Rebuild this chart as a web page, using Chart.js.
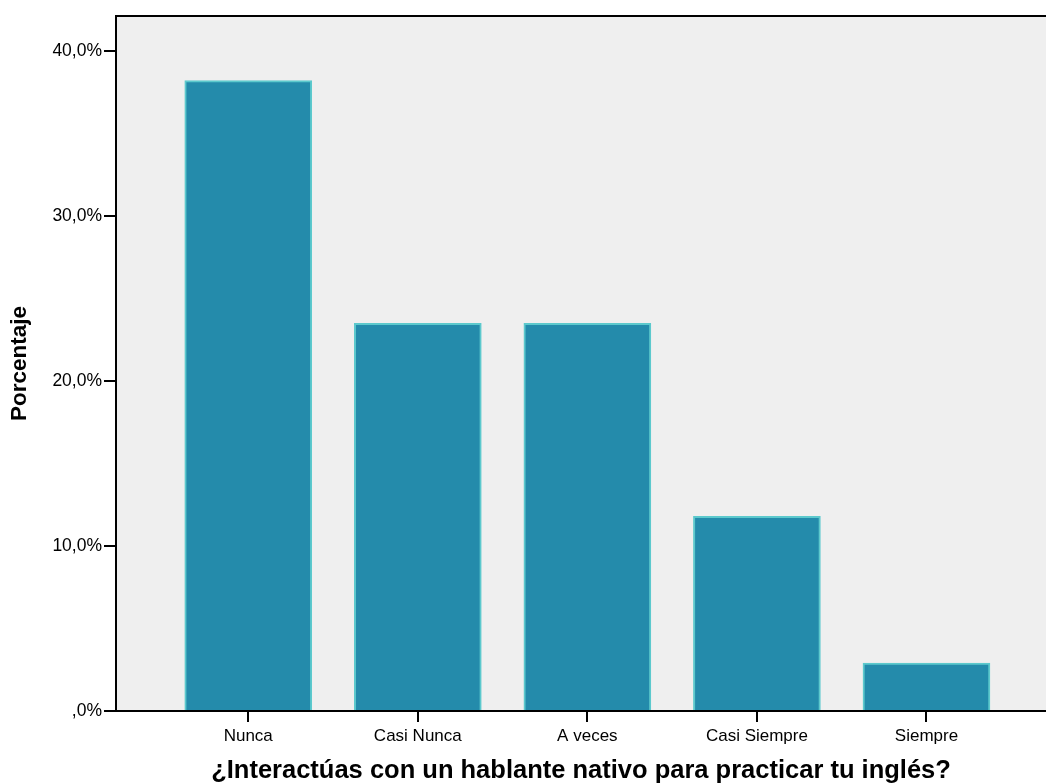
<!DOCTYPE html>
<html>
<head>
<meta charset="utf-8">
<title>Porcentaje</title>
<script src="https://cdn.jsdelivr.net/npm/chart.js@4/dist/chart.umd.min.js"></script>
<style>
  html, body { margin: 0; padding: 0; background: #fff; }
  #wrap { width: 1046px; height: 783px; position: relative; }
</style>
</head>
<body>
<div id="wrap"><canvas id="chart"></canvas></div>
<script>
// data
const categories = ['Nunca', 'Casi Nunca', 'A veces', 'Casi Siempre', 'Siempre'];
const percentages = [38.2, 23.5, 23.5, 11.8, 2.9];
const yTickValues = [0, 10, 20, 30, 40];
const yTickLabels = [',0%', '10,0%', '20,0%', '30,0%', '40,0%'];

const FONT = '"Liberation Sans", Arial, sans-serif';

// plot background + top frame line
const frame = {
    id: 'frame',
    beforeDraw(chart) {
        const { ctx, chartArea: a } = chart;
        ctx.save();
        ctx.fillStyle = '#efefef';
        ctx.fillRect(a.left, a.top, a.right - a.left, a.bottom - a.top);
        ctx.strokeStyle = '#000';
        ctx.lineWidth = 2;
        ctx.beginPath();
        ctx.moveTo(a.left, a.top);
        ctx.lineTo(a.right, a.top);
        ctx.stroke();
        ctx.restore();
    }
};

const ctx = document.getElementById('chart').getContext('2d');
new Chart(ctx, {
    type: 'bar',
    data: {
        datasets: [{
            data: percentages.map((v, i) => ({ x: i, y: v })),
            backgroundColor: '#248bab',
            borderColor: '#5cc9cd',
            borderWidth: 2,
            barThickness: 127
        }]
    },
    options: {
        responsive: true,
        maintainAspectRatio: false,
        animation: false,
        layout: { padding: { top: 16, right: 0, left: 0, bottom: 0 } },
        plugins: { legend: { display: false }, tooltip: { enabled: false } },
        scales: {
            x: {
                type: 'linear',
                offset: false,
                min: -0.78,
                max: 4.705,
                afterBuildTicks: axis => { axis.ticks = categories.map((c, i) => ({ value: i })); },
                afterFit: axis => { axis.height = 72; },
                ticks: {
                    autoSkip: false,
                    maxRotation: 0,
                    padding: 4,
                    color: '#000',
                    font: { family: FONT, size: 17 },
                    callback: v => categories[v] ?? ''
                },
                grid: { offset: false, drawOnChartArea: false, drawTicks: true, tickLength: 11, color: '#000', lineWidth: 2 },
                border: { display: true, color: '#000', width: 2 },
                title: {
                    display: true,
                    text: '¿Interactúas con un hablante nativo para practicar tu inglés?',
                    color: '#000',
                    font: { family: FONT, size: 25.5, weight: 'bold', lineHeight: 0.95 },
                    padding: { top: 0, bottom: 0 }
                }
            },
            y: {
                min: 0,
                max: 42.12,
                afterBuildTicks: axis => { axis.ticks = yTickValues.map(v => ({ value: v })); },
                afterFit: axis => { axis.width = 116; },
                ticks: {
                    padding: 2,
                    color: '#000',
                    font: { family: FONT, size: 17.5 },
                    callback: v => yTickLabels[yTickValues.indexOf(v)] ?? ''
                },
                grid: { drawOnChartArea: false, drawTicks: true, tickLength: 12, color: '#000', lineWidth: 2 },
                border: { display: true, color: '#000', width: 2 },
                title: {
                    display: true,
                    text: 'Porcentaje',
                    color: '#000',
                    font: { family: FONT, size: 22.5, weight: 'bold', lineHeight: 1.0 },
                    padding: { top: 9, bottom: 0 }
                }
            }
        }
    },
    plugins: [frame]
});
</script>
</body>
</html>
